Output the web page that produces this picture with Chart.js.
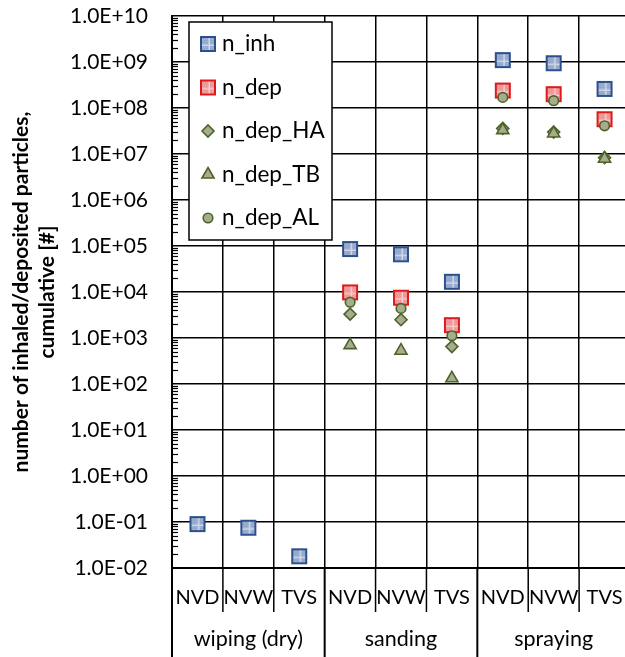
<!DOCTYPE html>
<html><head><meta charset="utf-8">
<style>html,body{margin:0;padding:0;overflow:hidden;background:#fff}</style>
<script src="https://cdn.jsdelivr.net/npm/chart.js@4.4.0/dist/chart.umd.min.js"></script>
</head><body>
<div style="width:640px;height:657px;position:relative"><canvas id="c" width="640" height="657" style="width:640px;height:657px"></canvas></div>
<script>
const categories = ['NVD','NVW','TVS','NVD','NVW','TVS','NVD','NVW','TVS'];
const groups = ['wiping (dry)','sanding','spraying'];
const groupSize = [3,3,3];
const yTickValues = [1e-2,1e-1,1e0,1e1,1e2,1e3,1e4,1e5,1e6,1e7,1e8,1e9,1e10];
const yTickLabels = ['1.0E-02','1.0E-01','1.0E+00','1.0E+01','1.0E+02','1.0E+03','1.0E+04','1.0E+05','1.0E+06','1.0E+07','1.0E+08','1.0E+09','1.0E+10'];
const seriesNames = ['n_inh','n_dep','n_dep_HA','n_dep_TB','n_dep_AL'];
const n_inh    = [0.09, 0.075, 0.018, 8.6e4, 6.6e4, 1.67e4, 1.1e9, 9.4e8, 2.6e8];
const n_dep    = [null, null, null, 9.8e3, 7.5e3, 1.9e3, 2.4e8, 2.0e8, 5.7e7];
const n_dep_HA = [null, null, null, 3.3e3, 2.5e3, 650, 3.6e7, 3.0e7, 8.3e6];
const n_dep_TB = [null, null, null, 700, 530, 133, 3.3e7, 2.8e7, 7.9e6];
const n_dep_AL = [null, null, null, 6.0e3, 4.4e3, 1.12e3, 1.7e8, 1.44e8, 4.1e7];

const FONT = 'Lato, "Open Sans", sans-serif';

function makeSquare(fill, stroke, line) {
  const s = 18, c = document.createElement('canvas');
  c.width = s; c.height = s;
  const g = c.getContext('2d');
  g.fillStyle = fill; g.fillRect(1, 1, s - 2, s - 2);
  g.fillStyle = line;
  for (let y = 2; y < s - 2; y += 2) for (let x = 2 + (y % 4 === 0 ? 1 : 0); x < s - 2; x += 2) { g.globalAlpha = 0.35; g.fillRect(x, y, 1, 1); }
  g.globalAlpha = 1;
  g.fillRect(9.5, 2, 1.5, s - 4);
  g.fillRect(2, 9.5, s - 4, 1.5);
  g.strokeStyle = stroke; g.lineWidth = 2;
  g.strokeRect(2, 2, s - 4, s - 4);
  return c;
}
const sqBlue = makeSquare('#93a7ca', '#2c508e', '#d0d9ea');
const sqRed = makeSquare('#ee9494', '#dc1c1c', '#f8cccc');
const OLIVE_FILL = '#a4ae8e', OLIVE_LINE = '#4f6228';

const styles = [
  {pointStyle: sqBlue, radius: 8, bg: '#93a7ca', bc: '#2c508e', order: 5},
  {pointStyle: sqRed, radius: 8, bg: '#ee9494', bc: '#dc1c1c', order: 4},
  {pointStyle: 'rectRot', radius: 6, bg: OLIVE_FILL, bc: OLIVE_LINE, order: 3},
  {pointStyle: 'triangle', radius: 7, bg: OLIVE_FILL, bc: OLIVE_LINE, order: 2},
  {pointStyle: 'circle', radius: 4.8, bg: OLIVE_FILL, bc: OLIVE_LINE, order: 1}
];
const seriesData = [n_inh, n_dep, n_dep_HA, n_dep_TB, n_dep_AL];

const datasets = seriesNames.map((name, i) => ({
  label: name,
  data: seriesData[i],
  showLine: false,
  pointStyle: styles[i].pointStyle,
  pointRadius: styles[i].radius,
  pointHoverRadius: styles[i].radius,
  pointBackgroundColor: styles[i].bg,
  pointBorderColor: styles[i].bc,
  pointBorderWidth: 1.6,
  order: styles[i].order
}));

const extras = {
  id: 'extras',
  beforeDatasetsDraw(chart) {
    const ctx = chart.ctx, y = chart.scales.y, area = chart.chartArea;
    ctx.save();
    ctx.strokeStyle = '#000'; ctx.lineWidth = 1.2;
    for (let e = -2; e < 10; e++) {
      for (let m = 2; m <= 9; m++) {
        const py = Math.round(y.getPixelForValue(m * Math.pow(10, e))) + 0.5;
        ctx.beginPath(); ctx.moveTo(area.left, py); ctx.lineTo(area.left + 6, py); ctx.stroke();
      }
    }
    ctx.restore();
  },
  afterDraw(chart) {
    const ctx = chart.ctx, x = chart.scales.x, area = chart.chartArea;
    const H = chart.height;
    const half = (x.getPixelForValue(1) - x.getPixelForValue(0)) / 2;
    ctx.save();
    ctx.strokeStyle = '#000';
    let idx = 0; const groupStarts = new Set([0]);
    groupSize.forEach(n => { idx += n; groupStarts.add(idx); });
    for (let i = 0; i <= categories.length; i++) {
      const px = x.getPixelForValue(i) - half;
      const isGroup = groupStarts.has(i);
      ctx.lineWidth = isGroup ? 2 : 1.5;
      ctx.beginPath(); ctx.moveTo(px, area.bottom); ctx.lineTo(px, isGroup ? H : area.bottom + 44); ctx.stroke();
    }
    ctx.fillStyle = '#000'; ctx.font = '21.5px ' + FONT; ctx.textAlign = 'center'; ctx.textBaseline = 'middle';
    let s = 0;
    groups.forEach((g, gi) => {
      const a = x.getPixelForValue(s), b = x.getPixelForValue(s + groupSize[gi] - 1);
      ctx.fillText(g, (a + b) / 2, area.bottom + 71);
      s += groupSize[gi];
    });
    ctx.save();
    ctx.translate(0, (area.top + area.bottom) / 2);
    ctx.rotate(-Math.PI / 2);
    ctx.font = 'bold 21px ' + FONT; ctx.textBaseline = 'alphabetic';
    ctx.fillText('number of inhaled/deposited particles,', 0, 28);
    ctx.fillText('cumulative [#]', 0, 54);
    ctx.restore();
    const lx = area.left + 17, ly = area.top + 6, lw = 143, lh = 218;
    ctx.fillStyle = '#fff'; ctx.fillRect(lx, ly, lw, lh);
    ctx.lineWidth = 1.5; ctx.strokeStyle = '#000'; ctx.strokeRect(lx, ly, lw, lh);
    seriesNames.forEach((name, i) => {
      const cy = ly + 22 + i * 43.5, cx = lx + 19;
      ctx.save();
      ctx.fillStyle = styles[i].bg; ctx.strokeStyle = styles[i].bc; ctx.lineWidth = 1.6;
      Chart.helpers.drawPoint(ctx, {pointStyle: styles[i].pointStyle, rotation: 0, borderWidth: 1.6, radius: styles[i].radius}, cx, cy);
      ctx.restore();
      ctx.fillStyle = '#000'; ctx.font = '22.5px ' + FONT; ctx.textAlign = 'left'; ctx.textBaseline = 'middle';
      ctx.fillText(name, lx + 33, cy);
    });
    ctx.restore();
  }
};

new Chart(document.getElementById('c'), {
  type: 'line',
  data: {labels: categories, datasets},
  options: {
    responsive: false,
    animation: false,
    devicePixelRatio: 1,
    layout: {padding: {top: 16, right: 10, left: 0, bottom: 0}},
    plugins: {legend: {display: false}, tooltip: {enabled: false}},
    scales: {
      x: {
        type: 'category',
        offset: true,
        grid: {offset: true, color: '#000', lineWidth: 1.5, drawTicks: false},
        border: {color: '#000', width: 2},
        ticks: {color: '#000', font: {family: FONT, size: 20}, padding: 18, maxRotation: 0, autoSkip: false},
        afterFit(s) { s.height = 89; s.paddingLeft = 0; s.paddingRight = 0; }
      },
      y: {
        type: 'logarithmic',
        min: 1e-2, max: 1e10,
        afterBuildTicks(s) { s.ticks = yTickValues.map(v => ({value: v, major: true})); },
        grid: {color: '#000', lineWidth: 1.5, drawTicks: false},
        border: {color: '#000', width: 2},
        ticks: {color: '#000', font: {family: FONT, size: 21}, padding: 24,
          callback(v, i) { return yTickLabels[yTickValues.indexOf(v)] ?? ''; }},
        afterFit(s) { s.width = 172; s.paddingTop = 0; s.paddingBottom = 0; }
      }
    }
  },
  plugins: [extras]
});
</script>
</body></html>
